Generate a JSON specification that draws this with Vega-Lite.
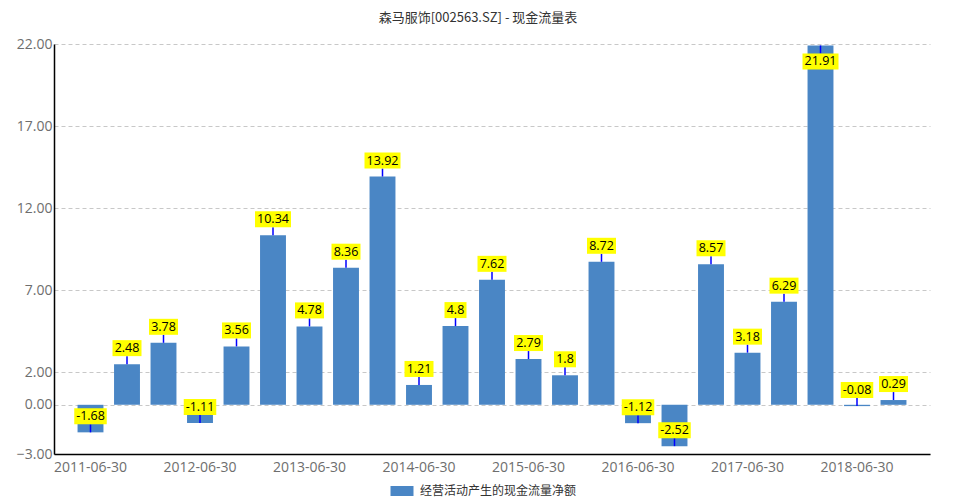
{
  "$schema": "https://vega.github.io/schema/vega-lite/v6.json",
  "width": 876,
  "height": 410,
  "autosize": {"type": "none"},
  "padding": {"left": 54, "top": 44, "right": 34, "bottom": 50},
  "background": "white",
  "title": {
    "text": "森马服饰[002563.SZ] - 现金流量表",
    "font": "Noto Sans CJK SC",
    "fontSize": 13,
    "fontWeight": "normal",
    "color": "#333333",
    "anchor": "middle",
    "dx": -14,
    "offset": 12
  },
  "config": {
    "view": {"stroke": null},
    "axis": {"labelFont": "Open Sans", "labelFontSize": 14, "labelColor": "#6e6e6e", "domainColor": "#000000", "domainWidth": 1.5, "ticks": false, "tickSize": 0, "title": null}
  },
  "data": {
    "values": [
      {"d": "2011-06-30", "v": -1.68},
      {"d": "2011-09-30", "v": 2.48},
      {"d": "2011-12-31", "v": 3.78},
      {"d": "2012-06-30", "v": -1.11},
      {"d": "2012-09-30", "v": 3.56},
      {"d": "2012-12-31", "v": 10.34},
      {"d": "2013-06-30", "v": 4.78},
      {"d": "2013-09-30", "v": 8.36},
      {"d": "2013-12-31", "v": 13.92},
      {"d": "2014-06-30", "v": 1.21},
      {"d": "2014-09-30", "v": 4.8},
      {"d": "2014-12-31", "v": 7.62},
      {"d": "2015-06-30", "v": 2.79},
      {"d": "2015-09-30", "v": 1.8},
      {"d": "2015-12-31", "v": 8.72},
      {"d": "2016-06-30", "v": -1.12},
      {"d": "2016-09-30", "v": -2.52},
      {"d": "2016-12-31", "v": 8.57},
      {"d": "2017-06-30", "v": 3.18},
      {"d": "2017-09-30", "v": 6.29},
      {"d": "2017-12-31", "v": 21.91},
      {"d": "2018-06-30", "v": -0.08},
      {"d": "2018-09-30", "v": 0.29}
    ]
  },
  "encoding": {
    "x": {
      "field": "d",
      "type": "nominal",
      "sort": null,
      "scale": {"paddingInner": 0, "paddingOuter": 0.5},
      "axis": {
        "values": ["2011-06-30", "2012-06-30", "2013-06-30", "2014-06-30", "2015-06-30", "2016-06-30", "2017-06-30", "2018-06-30"],
        "labelAngle": 0,
        "labelPadding": 6,
        "grid": false
      }
    },
    "y": {
      "field": "v",
      "type": "quantitative",
      "scale": {"domain": [-3, 22], "nice": false, "zero": false},
      "axis": {
        "values": [-3, 0, 2, 7, 12, 17, 22],
        "format": ".2f",
        "labelPadding": 2,
        "grid": true,
        "gridColor": "#c8c8c8",
        "gridDash": [4, 3],
        "gridWidth": 1
      }
    }
  },
  "layer": [
    {
      "mark": {"type": "bar", "width": {"band": 0.71}},
      "encoding": {
        "color": {
          "datum": "经营活动产生的现金流量净额",
          "scale": {"range": ["#4a86c5"]},
          "legend": {
            "title": null,
            "orient": "none",
            "legendX": 342,
            "legendY": 441,
            "symbolType": "M-11.5,-5h23v10h-23z",
            "symbolSize": 4,
            "symbolOpacity": 1,
            "symbolStrokeWidth": 0,
            "labelFont": "Noto Sans CJK SC",
            "labelFontSize": 12,
            "labelColor": "#333333",
            "labelOffset": 12,
            "padding": 0
          }
        }
      }
    },
    {
      "transform": [{"filter": "datum.v <= 20"}],
      "layer": [
        {
          "mark": {"type": "rule", "color": "#0000ff", "strokeWidth": 1.5, "y2Offset": -8},
          "encoding": {"y2": {"field": "v"}}
        },
        {
          "mark": {"type": "point", "filled": true, "color": "#ffff00", "opacity": 1, "size": 4, "yOffset": -16},
          "encoding": {
            "shape": {
              "condition": [
                {"test": "length(toString(datum.v)) == 3", "value": "M-11,-8h22v16h-22z"},
                {"test": "datum.v < 0", "value": "M-16.25,-8h32.5v16h-32.5z"},
                {"test": "length(toString(datum.v)) == 5", "value": "M-18,-8h36v16h-36z"}
              ],
              "value": "M-14.5,-8h29v16h-29z"
            }
          }
        },
        {
          "mark": {"type": "text", "font": "Open Sans", "fontSize": 12.5, "color": "#000000", "align": "center", "baseline": "middle", "dy": -16},
          "encoding": {"text": {"field": "v", "type": "nominal"}}
        }
      ]
    },
    {
      "transform": [{"filter": "datum.v > 20"}],
      "layer": [
        {
          "mark": {"type": "rule", "color": "#0000ff", "strokeWidth": 1.5, "y2Offset": 8},
          "encoding": {"y2": {"field": "v"}}
        },
        {
          "mark": {"type": "point", "filled": true, "color": "#ffff00", "opacity": 1, "size": 4, "yOffset": 16, "shape": "M-18,-8h36v16h-36z"},
          "encoding": {}
        },
        {
          "mark": {"type": "text", "font": "Open Sans", "fontSize": 12.5, "color": "#000000", "align": "center", "baseline": "middle", "dy": 16},
          "encoding": {"text": {"field": "v", "type": "nominal"}}
        }
      ]
    }
  ]
}
